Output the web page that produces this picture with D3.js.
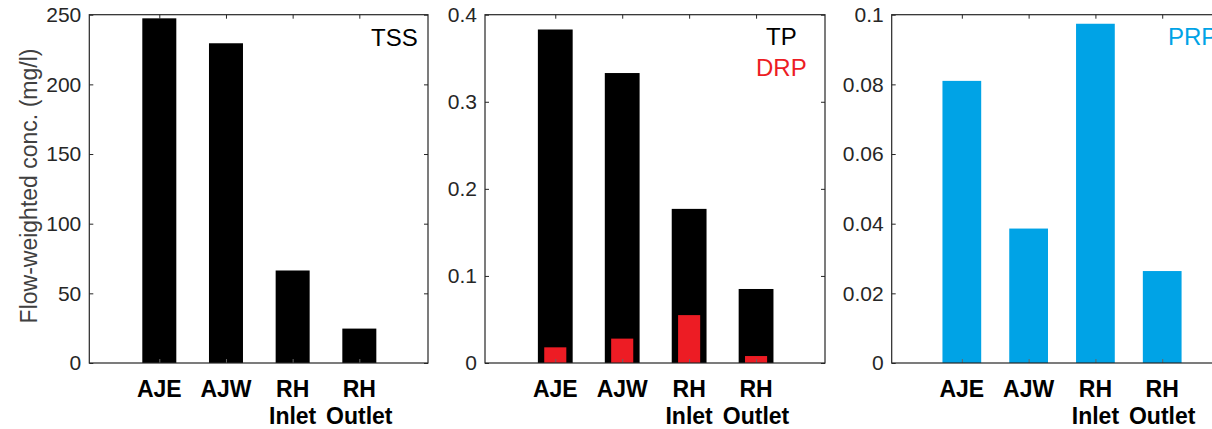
<!DOCTYPE html>
<html>
<head>
<meta charset="utf-8">
<script src="https://cdn.jsdelivr.net/npm/d3@7"></script>
<style>
  body { margin: 0; background: #fff; }
  svg text { font-family: "Liberation Sans", Arial, sans-serif; }
</style>
</head>
<body>
<svg id="chart" width="1212" height="429"></svg>
<script>
// data
var sites = [["AJE"], ["AJW"], ["RH", "Inlet"], ["RH", "Outlet"]];
var tss = [247.4, 229.5, 66.4, 24.7];
var tp = [0.383, 0.333, 0.177, 0.085];
var drp = [0.018, 0.028, 0.055, 0.008];
var prp = [0.081, 0.0386, 0.0974, 0.0264];

var tssTicks = [0, 50, 100, 150, 200, 250];
var tpTicks = [0, 0.1, 0.2, 0.3, 0.4];
var prpTicks = [0, 0.02, 0.04, 0.06, 0.08, 0.1];

var black = "#000000", red = "#ed1c24", blue = "#00a3e6";
var axisCol = "#262626";

var svg = d3.select("#chart");
var top_y = 14.7, bot_y = 363;

// one panel = one axes box
var panels = [
  {left: 89.3, right: 428, ymax: 250, ticks: tssTicks,
   series: [{vals: tss, color: black, w: 0.51}],
   labels: [{t: "TSS", color: black, x: 371, y: 46}]},
  {left: 485, right: 825, ymax: 0.4, ticks: tpTicks,
   series: [{vals: tp, color: black, w: 0.52}, {vals: drp, color: red, w: 0.33}],
   labels: [{t: "TP", color: black, x: 766, y: 45}, {t: "DRP", color: red, x: 756, y: 76}]},
  {left: 891.7, right: 1231, ymax: 0.1, ticks: prpTicks,
   series: [{vals: prp, color: blue, w: 0.58}],
   labels: [{t: "PRP", color: blue, x: 1168, y: 45}]}
];

var fmt = function(d) { return String(+d.toFixed(3)); };

panels.forEach(function(p, pi) {
  var x = d3.scaleLinear().domain([-1.05, 4.03]).range([p.left, p.right]);
  var y = d3.scaleLinear().domain([0, p.ymax]).range([bot_y, top_y]);
  var unit = x(1) - x(0);
  var g = svg.append("g");

  // bars
  p.series.forEach(function(s) {
    g.selectAll(null).data(s.vals).enter().append("rect")
      .attr("x", function(d, i) { return x(i) - unit * s.w / 2; })
      .attr("width", unit * s.w)
      .attr("y", function(d) { return y(d); })
      .attr("height", function(d) { return y(0) - y(d); })
      .attr("fill", s.color);
  });

  // y axis left, with labels
  var yl = g.append("g").attr("transform", "translate(" + p.left + ",0)")
    .call(d3.axisLeft(y).tickValues(p.ticks).tickFormat(fmt).tickSize(-4).tickPadding(8));
  yl.select(".domain").remove();
  yl.selectAll("line").attr("stroke", axisCol);
  yl.selectAll("text").attr("fill", axisCol).attr("font-size", 21);

  // mirrored ticks on the right
  var yr = g.append("g").attr("transform", "translate(" + p.right + ",0)")
    .call(d3.axisRight(y).tickValues(p.ticks).tickFormat("").tickSize(-4));
  yr.select(".domain").remove();
  yr.selectAll("line").attr("stroke", axisCol);

  // x ticks, top and bottom
  var idx = d3.range(sites.length);
  var xb = g.append("g").attr("transform", "translate(0," + bot_y + ")")
    .call(d3.axisBottom(x).tickValues(idx).tickFormat("").tickSize(-4));
  xb.select(".domain").remove();
  xb.selectAll("line").attr("stroke", "#666");
  var xt = g.append("g").attr("transform", "translate(0," + top_y + ")")
    .call(d3.axisTop(x).tickValues(idx).tickFormat("").tickSize(-4));
  xt.select(".domain").remove();
  xt.selectAll("line").attr("stroke", axisCol);

  // category labels, two lines
  var cl = g.selectAll(null).data(sites).enter().append("text")
    .attr("text-anchor", "middle")
    .attr("font-size", 23).attr("font-weight", "bold").attr("fill", "#000");
  cl.each(function(lines, i) {
    var t = d3.select(this);
    lines.forEach(function(s, k) {
      t.append("tspan").attr("x", x(i)).attr("y", 397 + k * 27).text(s);
    });
  });

  // box
  g.append("rect")
    .attr("x", p.left).attr("y", top_y)
    .attr("width", p.right - p.left).attr("height", bot_y - top_y)
    .attr("fill", "none").attr("stroke", axisCol).attr("stroke-width", 1.2);

  // in-plot labels
  p.labels.forEach(function(l) {
    g.append("text").attr("x", l.x).attr("y", l.y)
      .attr("font-size", 24).attr("fill", l.color).text(l.t);
  });
});

svg.append("text")
  .attr("transform", "translate(37,186) rotate(-90)")
  .attr("text-anchor", "middle")
  .attr("font-size", 23).attr("fill", "#404040")
  .text("Flow-weighted conc. (mg/l)");
</script>
</body>
</html>
